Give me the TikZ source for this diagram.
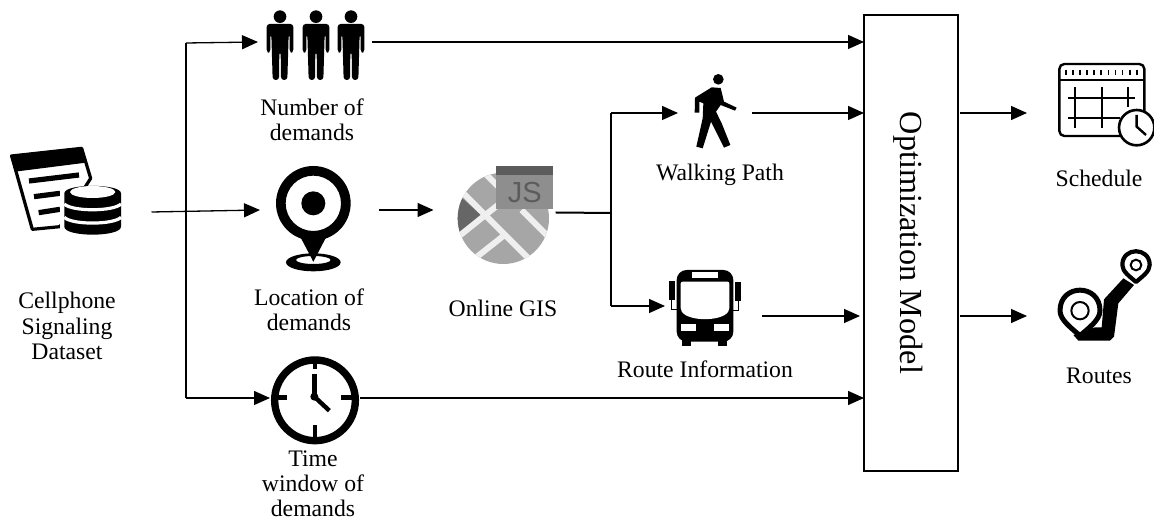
\documentclass[tikz,border=0pt]{standalone}
\usepackage{fontspec}
\setmainfont{Liberation Serif}
\newfontfamily\jsfont{Liberation Sans}
\usetikzlibrary{arrows.meta}
\definecolor{mapfill}{HTML}{A6A6A6}
\definecolor{maproad}{HTML}{EFEFEF}
\definecolor{mapdark}{HTML}{666666}
\definecolor{jsbox}{HTML}{8E8E8E}
\definecolor{jstop}{HTML}{5C5C5C}
\tikzset{
  x=0.5pt,y=-0.5pt,
  lab/.style={align=center,inner sep=0,font=\fontsize{11.85}{12.6}\selectfont},
  iconbox/.style={inner sep=0,outer sep=0,draw=none},
  conn/.style={line width=0.65pt,black},
  arr/.style={conn,-{Triangle[length=8pt,width=7pt]}},
  zoomA/.style={shift={#1},scale=1/3}
}
\begin{document}
\begin{tikzpicture}
\useasboundingbox (0,0) rectangle (1154,522);

% ---------- anchor nodes of the icons
\node[iconbox,minimum width=75pt,minimum height=50pt] (dataset) at (76.5,212) {};
\node[iconbox,minimum width=57pt,minimum height=36pt] (people) at (315,42) {};
\node[iconbox,minimum width=59.5pt,minimum height=60pt] (pin) at (319.5,210) {};
\node[iconbox,minimum width=45pt,minimum height=50pt] (clock) at (315,398) {};
\node[iconbox,minimum width=61pt,minimum height=50pt] (gis) at (494.5,212.5) {};
\node[iconbox,minimum width=37pt,minimum height=50pt] (walk) at (715,113) {};
\node[iconbox,minimum width=48.5pt,minimum height=50pt] (bus) at (713.5,316) {};
\node[iconbox,minimum width=37pt,minimum height=30pt] (sched) at (1064,113) {};
\node[iconbox,minimum width=37pt,minimum height=30pt] (routes) at (1064,316) {};
\node[draw=black,line width=1pt,inner sep=0,outer sep=0,minimum width=47pt,minimum height=228pt,
      font=\fontsize{16.1}{18}\selectfont] (opt) at (911,243)
      {\hspace*{-3pt}\rotatebox[origin=c]{-90}{Optimization Model}};

% ---------- labels
\node[lab] (l1) at (312,120) {Number of\\demands};
\node[lab] (l2) at (309,310) {Location of\\demands};
\node[lab] (l3) at (313,484) {Time\\window of\\demands};
\node[lab] (l4) at (67,326) {Cellphone\\Signaling\\Dataset};
\node[lab] (l5) at (503,308) {Online GIS};
\node[lab] (l6) at (720,175) {Walking Path};
\node[lab] (l7) at (705,369) {Route Information};
\node[lab] (l8) at (1099,178) {Schedule};
\node[lab] (l9) at (1099,376) {Routes};

% ---------- connectors
\coordinate (trunkT) at (186,43);
\coordinate (trunkB) at (186,398);
\coordinate (gisT) at (611,113);
\coordinate (gisB) at (611,306);
\coordinate (gisM) at (611,213);
\draw[arr] (dataset.east) -- (pin.west);
\draw[conn] (trunkT) -- (trunkB);
\draw[arr] (trunkT) -- (people.west);
\draw[arr] (trunkB) -- (clock.west);
\draw[arr] (people.east) -- (opt.west |- people.east);
\draw[arr] (clock.east) -- (opt.west |- clock.east);
\draw[arr] (pin.east) -- (pin.east -| gis.west);
\draw[conn,line width=1pt] (gis.east) -- (gisM);
\draw[conn] (gisT) -- (gisB);
\draw[arr] (gisT) -- (walk.west);
\draw[arr] (gisB) -- (bus.west |- gisB);
\draw[arr] (walk.east) -- (opt.west |- walk.east);
\draw[arr] (bus.east) -- ([xshift=-2pt]opt.west |- bus.east);
\draw[arr] ([xshift=1pt]opt.east |- sched.west) -- (sched.west);
\draw[arr] ([xshift=1pt]opt.east |- routes.west) -- (routes.west);

% ---------- dataset icon
\begin{scope}[zoomA={(0,130)}]
  \draw[black,line width=1.6pt,fill=white,line join=round] (35,78) -- (245,55) -- (272,145) -- (180,290) -- (97,298) -- cycle;
  \fill[black] (30,75) -- (245,52) -- (258,98) -- (45,125) -- cycle;
  \draw[black,line width=2.6pt] (87,153) -- (237,135);
  \draw[black,line width=2.6pt] (102,200) -- (180,190);
  \draw[black,line width=2.6pt] (116,248) -- (180,238);
  \fill[white] (180,190) rectangle (370,320);
  \fill[black] (193,190) .. controls (193,160) and (363,160) .. (363,190)
     -- (363,290) .. controls (363,322) and (193,322) .. (193,290) -- cycle;
  \fill[white] (278,186) ellipse (68 and 18);
  \draw[white,line width=1.6pt] (193,222) .. controls (215,245) and (340,245) .. (363,222);
  \draw[white,line width=1.6pt] (193,262) .. controls (215,285) and (340,285) .. (363,262);
\end{scope}

% ---------- people icon
\foreach \c in {120,228,333}{
\begin{scope}[zoomA={(240,10)}]
  \fill[black] (\c,20) circle (19);
  \fill[black,rounded corners=1.5pt] (\c-40,42) -- (\c+40,42) -- (\c+40,128) -- (\c+29,128) -- (\c+29,72) -- (\c+26,72) -- (\c+22,210) -- (\c+3,210) -- (\c+2,125) -- (\c-2,125) -- (\c-3,210) -- (\c-22,210) -- (\c-26,72) -- (\c-29,72) -- (\c-29,128) -- (\c-40,128) -- cycle;
\end{scope}}

% ---------- pin icon
\begin{scope}[zoomA={(260,160)}]
  \fill[black] (160,305) -- (118,225) -- (202,225) -- cycle;
  \fill[black,even odd rule] (160,130) circle (112) (160,130) circle (83);
  \fill[black] (160,130) circle (36);
  \fill[black,even odd rule] (160,307) ellipse (82 and 27) (160,300) ellipse (52 and 12);
  \fill[black] (160,305) -- (145,268) -- (175,268) -- cycle;
\end{scope}

% ---------- clock icon
\begin{scope}[zoomA={(260,345)}]
  \draw[black,line width=3.7pt] (165,166) circle (121);
  \draw[black,line width=2.2pt] (165,45) -- (165,72);
  \draw[black,line width=2.2pt] (165,240) -- (165,286);
  \draw[black,line width=2.2pt] (45,157) -- (80,157);
  \draw[black,line width=2.2pt] (243,157) -- (285,157);
  \fill[black] (163,155) circle (12);
  \draw[black,line width=2.2pt] (163,155) -- (163,88);
  \draw[black,line width=2.2pt] (163,155) -- (208,197);
\end{scope}

% ---------- online GIS icon
\begin{scope}[zoomA={(440,150)}]
  \begin{scope}
    \clip (190,205) circle (137);
    \fill[mapfill] (50,65) rectangle (330,345);
    \fill[mapdark] (40,120) -- (122,195) -- (40,270) -- cycle;
    \draw[maproad,line width=3pt] (60,120) -- (280,340);
    \draw[maproad,line width=3pt] (40,272) -- (180,160);
    \draw[maproad,line width=3pt] (105,325) -- (200,250);
    \draw[maproad,line width=3pt] (130,65) -- (180,115);
    \draw[maproad,line width=3pt] (245,180) -- (330,265);
  \end{scope}
  \fill[jsbox] (167,48) rectangle (340,178);
  \fill[jstop] (167,48) rectangle (340,75);
  \node[inner sep=0,text=jstop,font=\jsfont\fontsize{14.5}{14.5}\selectfont] (js) at (254,127) {JS};
\end{scope}

% ---------- walker icon
\begin{scope}[zoomA={(650,60)}]
  \fill[black] (205,58) circle (16);
  \fill[black,line join=round] (135,113) -- (185,82) -- (212,84) -- (222,125) -- (260,143) -- (255,152) -- (212,135) -- (198,155) -- (215,190) -- (241,255) -- (222,263) -- (183,185) -- (158,265) -- (139,260) -- (158,175) -- (160,130) -- (148,125) -- (148,158) -- (134,158) -- cycle;
\end{scope}

% ---------- bus icon
\begin{scope}[zoomA={(650,260)}]
  \fill[black,rounded corners=5pt] (80,30) -- (250,30) -- (250,245) -- (80,245) -- cycle;
  \fill[black] (97,240) rectangle (123,258);
  \fill[black] (203,240) rectangle (232,258);
  \fill[white] (127,37) rectangle (203,54);
  \fill[white,rounded corners=1pt] (92,65) -- (238,65) -- (238,150) .. controls (215,185) and (115,185) .. (92,150) -- cycle;
  \fill[white] (93,193) rectangle (137,213);
  \fill[white] (193,193) rectangle (237,213);
  \fill[black] (58,62) rectangle (75,120);
  \fill[black] (255,65) rectangle (272,122);
  \draw[black,line width=0.4pt] (65,120) -- (65,148) -- (80,148);
  \draw[black,line width=0.4pt] (264,122) -- (264,150) -- (250,150);
\end{scope}

% ---------- schedule icon
\begin{scope}[zoomA={(1040,50)}]
  \draw[black,line width=1.2pt,rounded corners=2.5pt] (58,42) rectangle (313,258);
  \draw[black,line width=1.2pt] (58,90) -- (313,90);
  \foreach \i in {0,...,10}{
    \draw[black,line width=0.9pt] ({78+\i*21.2},60) -- ({78+\i*21.2},74);
  }
  \draw[black,line width=1.1pt] (105,112) -- (105,235);
  \draw[black,line width=1.1pt] (187,112) -- (187,235);
  \draw[black,line width=1.1pt] (265,112) -- (265,172);
  \draw[black,line width=1.1pt] (85,145) -- (285,145);
  \draw[black,line width=1.1pt] (85,203) -- (240,203);
  \draw[black,line width=1.3pt,fill=white] (290,233) circle (53);
  \draw[black,line width=1.2pt] (290,195) -- (290,230) -- (318,255);
\end{scope}

% ---------- routes icon
\begin{scope}[zoomA={(1040,240)}]
  \fill[black,line join=round] (250,115) -- (282,135) -- (235,190) -- (222,290) -- (210,302) -- (115,302) -- (100,285) -- (165,262) -- (185,262) -- (192,178) -- cycle;
  \draw[black,line width=2.5pt,fill=white,line join=round] (120,287) .. controls (95,265) and (60,240) .. (60,212) .. controls (60,130) and (180,130) .. (180,212) .. controls (180,240) and (145,265) .. (120,287) -- cycle;
  \draw[black,line width=1pt] (120,212) circle (26);
  \draw[black,line width=2.1pt,fill=white,line join=round] (288,126) .. controls (270,110) and (247,95) .. (247,75) .. controls (247,20) and (329,20) .. (329,75) .. controls (329,95) and (306,110) .. (288,126) -- cycle;
  \draw[black,line width=1pt] (288,75) circle (16);
\end{scope}
\end{tikzpicture}
\end{document}
